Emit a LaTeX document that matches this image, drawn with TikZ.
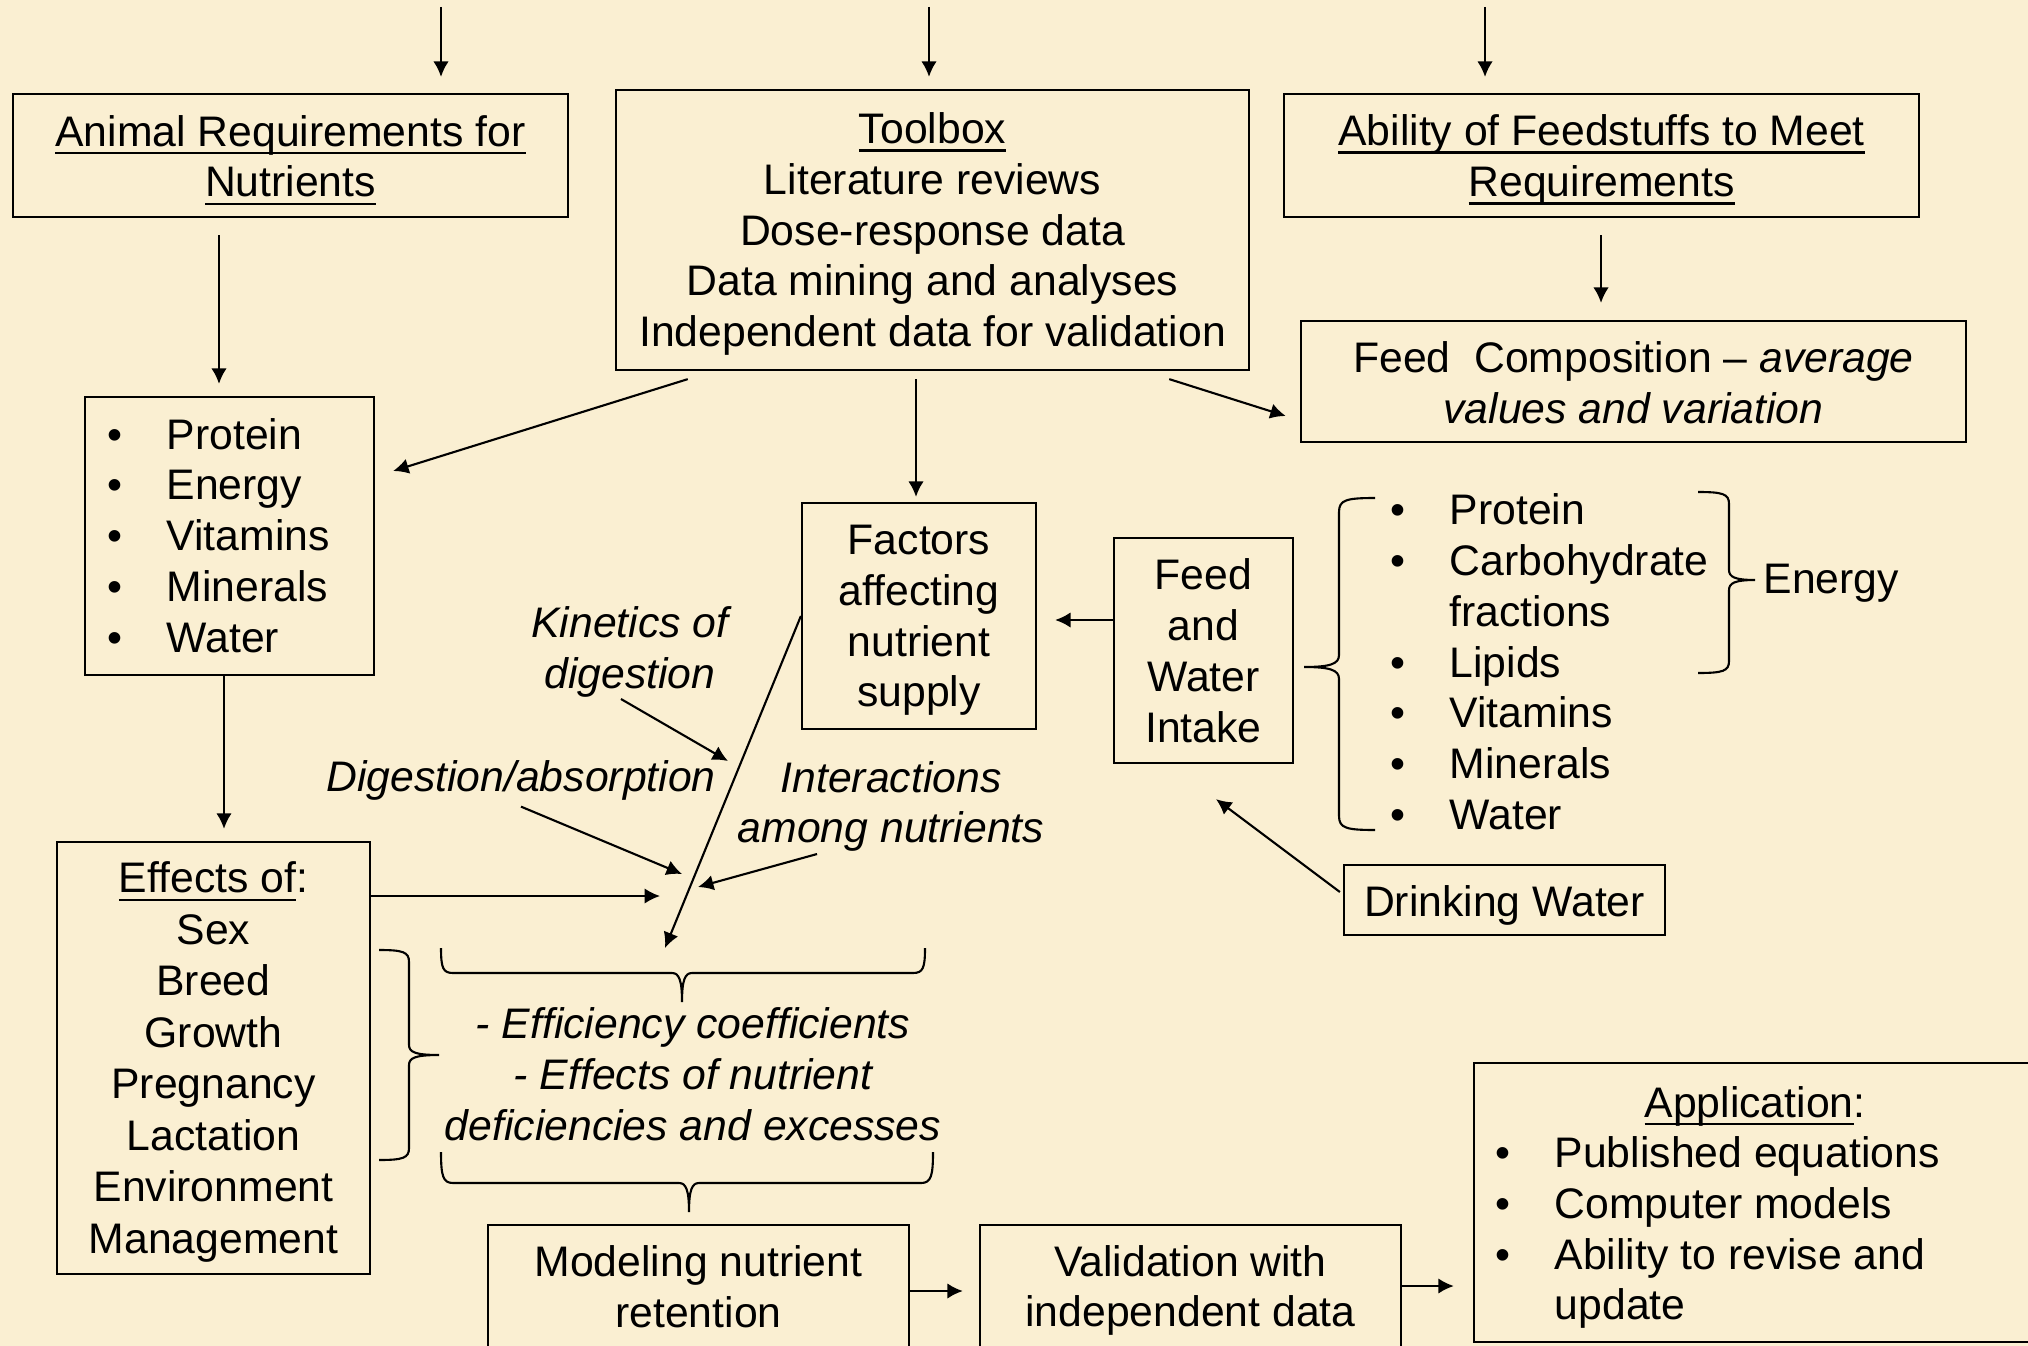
\documentclass[tikz,border=0pt]{standalone}
\usepackage{fontspec}
\setmainfont{Liberation Sans}
\usetikzlibrary{arrows.meta,calc}
\definecolor{bg}{RGB}{250,239,210}
\newcommand\fs{\fontsize{12.15}{14.45}\selectfont}
\newcommand\fsb{\fontsize{12.15}{14.65}\selectfont}
\newcommand\mybullet{\makebox[0.59cm][l]{•}}
\newsavebox\myulbox
\newcommand\myul[1]{\sbox\myulbox{#1}\rlap{\rule[-2.3pt]{\wd\myulbox}{0.65pt}}\usebox\myulbox}
\tikzset{
 box/.style={draw, line width=0.6pt, inner sep=0pt},
 txt/.style={inner sep=0pt, align=center, font=\fs},
 lbl/.style={inner sep=0pt, align=center, font=\fs\itshape},
 lst/.style={inner sep=0pt, anchor=west, font=\fs},
 arr/.style={line width=0.6pt, -{Latex[length=4.4pt,width=4.4pt]}},
 brace/.style={line width=0.6pt},
}
\begin{document}
\begin{tikzpicture}[x=0.01cm,y=-0.01cm]
\useasboundingbox (0,0) rectangle (2028,1346);
\clip (0,0) rectangle (2028,1346);
\fill[bg] (0,0) rectangle (2028,1346);

% ---------- boxes ----------
\node[box, minimum width=5.55cm, minimum height=1.23cm] (anim) at (290.5,155.5) {};
\node[txt] (animt) at (290.5,160) {\myul{Animal Requirements for}\\\myul{Nutrients}};

\node[box, minimum width=6.33cm, minimum height=2.80cm] (tool) at (932.5,230) {};
\node[txt] (toolt) at (932.5,234)
  {\myul{Toolbox}\\Literature reviews\\Dose-response data\\Data mining and analyses\\Independent data for validation};

\node[box, minimum width=6.35cm, minimum height=1.23cm] (abil) at (1601.5,155.5) {};
\node[txt] (abilt) at (1601.5,160) {\myul{Ability of Feedstuffs to Meet}\\\myul{Requirements}};

\node[box, minimum width=6.65cm, minimum height=1.21cm] (fcomp) at (1633.5,381.5) {};
\node[txt] (fcompt) at (1633.5,382.5)
  {Feed\ \ Composition – \textit{average}\\\textit{values and variation}};

\node[box, minimum width=2.89cm, minimum height=2.78cm] (nlbox) at (229.5,536) {};
\node[lst] (nlist) at (107,540.5) {\begin{tabular}{@{}l@{}l@{}}
 \mybullet&Protein\\ \mybullet&Energy\\ \mybullet&Vitamins\\ \mybullet&Minerals\\ \mybullet&Water
\end{tabular}};

\node[box, minimum width=3.13cm, minimum height=4.32cm] (eff) at (213.5,1058) {};
\node[txt, font=\fsb] (efft) at (213.5,1062)
  {\myul{Effects of}:\\Sex\\Breed\\Growth\\Pregnancy\\Lactation\\Environment\\Management};

\node[box, minimum width=2.34cm, minimum height=2.26cm] (fact) at (919,616) {};
\node[txt] (factt) at (919,620.5) {Factors\\affecting\\nutrient\\supply};

\node[box, minimum width=1.79cm, minimum height=2.25cm] (fwi) at (1203.5,650.5) {};
\node[txt] (fwit) at (1203.5,650.5) {Feed\\and\\Water\\Intake};

\node[box, minimum width=3.21cm, minimum height=0.70cm] (dw) at (1504.5,900) {};
\node[txt] (dwt) at (1504.5,905) {Drinking Water};

\node[lst] (flist) at (1390,667) {\begin{tabular}{@{}l@{}l@{}}
 \mybullet&Protein\\ \mybullet&Carbohydrate\\ &fractions\\ \mybullet&Lipids\\ \mybullet&Vitamins\\ \mybullet&Minerals\\ \mybullet&Water
\end{tabular}};
\node[lst] (energy) at (1763,583) {Energy};

\node[box, minimum width=4.21cm, minimum height=1.27cm] (model) at (698.5,1288.5) {};
\node[txt] (modelt) at (698.5,1286.5) {Modeling nutrient\\retention};

\node[box, minimum width=4.21cm, minimum height=1.27cm] (valid) at (1190.5,1288.5) {};
\node[txt] (validt) at (1190.5,1290.5) {Validation with\\independent data};

\node[box, minimum width=5.62cm, minimum height=2.79cm] (app) at (1755,1202.5) {};
\node[txt] (apph) at (1755,1106) {\myul{Application}:};
\node[lst] (appl) at (1495,1233.5) {\begin{tabular}{@{}l@{}l@{}}
 \mybullet&Published equations\\ \mybullet&Computer models\\ \mybullet&Ability to revise and\\ &update
\end{tabular}};

% ---------- italic labels ----------
\node[lbl] (kin) at (630,652) {Kinetics of\\digestion};
\node[lbl] (dig) at (521,780) {Digestion/absorption};
\node[lbl] (inter) at (891,806.5) {Interactions\\among nutrients};
\node[lbl] (effic) at (693,1074) {- Efficiency coefficients\\- Effects of nutrient\\deficiencies and excesses};

% ---------- free ends ----------
\coordinate (t1) at (441,7);
\coordinate (t2) at (929,7);
\coordinate (t3) at (1485,7);
\coordinate (kend) at (728,761);
\coordinate (dend) at (682,874);
\coordinate (iend) at (698,887);
\coordinate (lend) at (665,948);
\coordinate (eend) at (660,896);

% ---------- arrows ----------
\draw[arr, shorten >=0.16cm] (t1) -- (t1 |- anim.north);
\draw[arr, shorten >=0.12cm] (t2) -- (t2 |- tool.north);
\draw[arr, shorten >=0.16cm] (t3) -- (t3 |- abil.north);
\draw[arr] ($(anim.south)+(-71.5,17)$) -- ($(nlbox.north)+(-10.5,-12)$);
\draw[arr] ($(tool.south west)+(73,8)$) -- ($(nlbox.east)+(18,-65)$);
\draw[arr] ($(tool.south)+(-16.5,8)$) -- ($(fact.north)+(-3,-5)$);
\draw[arr] ($(tool.south east)+(-81,8)$) -- ($(fcomp.west)+(-14,34.5)$);
\draw[arr] ($(abil.south)+(-0.5,17)$) -- ($(fcomp.north)+(-32.5,-17)$);
\draw[arr] ($(nlbox.south)+(-5.5,0)$) -- ($(eff.north)+(10.5,-12)$);
\draw[arr] ($(eff.east)+(0,-162)$) -- (eend);
\draw[arr] (fact.west) -- (lend);
\draw[arr] ($(kin.south)+(-9,1)$) -- (kend);
\draw[arr] ($(dig.south)+(0,6)$) -- (dend);
\draw[arr] ($(inter.south)+(-74,1.5)$) -- (iend);
\draw[arr] ($(fwi.west)+(0,-30.5)$) -- ($(fact.east)+(18,4)$);
\draw[arr] ($(dw.west)+(-3,-8)$) -- ($(fwi.south)+(12.5,35)$);
\draw[arr] ($(model.east)+(0,2.5)$) -- ($(valid.west)+(-16,2.5)$);
\draw[arr] ($(valid.east)+(0,-2.5)$) -- ($(app.west)+(-19,83.5)$);

% ---------- braces ----------
% feed list "{"
\draw[brace] (1375,498) .. controls (1346,498) and (1339,500) .. (1339,512)
  -- (1339,655) .. controls (1339,664) and (1330,667) .. (1304,667)
  .. controls (1330,667) and (1339,670) .. (1339,679)
  -- (1339,816) .. controls (1339,828) and (1346,830) .. (1375,830);
% energy "}"
\draw[brace] (1698,492) .. controls (1723,492) and (1729,494) .. (1729,504)
  -- (1729,570) .. controls (1729,577) and (1735,580) .. (1755,580)
  .. controls (1735,580) and (1729,583) .. (1729,590)
  -- (1729,661) .. controls (1729,671) and (1723,673) .. (1698,673);
% effects "}"
\draw[brace] (379,950) .. controls (403,950) and (409,952) .. (409,962)
  -- (409,1045) .. controls (409,1052) and (415,1055) .. (439,1055)
  .. controls (415,1055) and (409,1058) .. (409,1065)
  -- (409,1148) .. controls (409,1158) and (403,1160) .. (379,1160);
% top horizontal brace
\draw[brace] (441,948) .. controls (441,968) and (443,973) .. (453,973)
  -- (672,973) .. controls (679,973) and (682,980) .. (682,1002)
  .. controls (682,980) and (685,973) .. (692,973)
  -- (913,973) .. controls (923,973) and (925,968) .. (925,948);
% bottom horizontal brace
\draw[brace] (441,1152) .. controls (441,1176) and (443,1183) .. (453,1183)
  -- (679,1183) .. controls (686,1183) and (689,1190) .. (689,1212)
  .. controls (689,1190) and (692,1183) .. (699,1183)
  -- (921,1183) .. controls (931,1183) and (933,1176) .. (933,1152);
\end{tikzpicture}
\end{document}
